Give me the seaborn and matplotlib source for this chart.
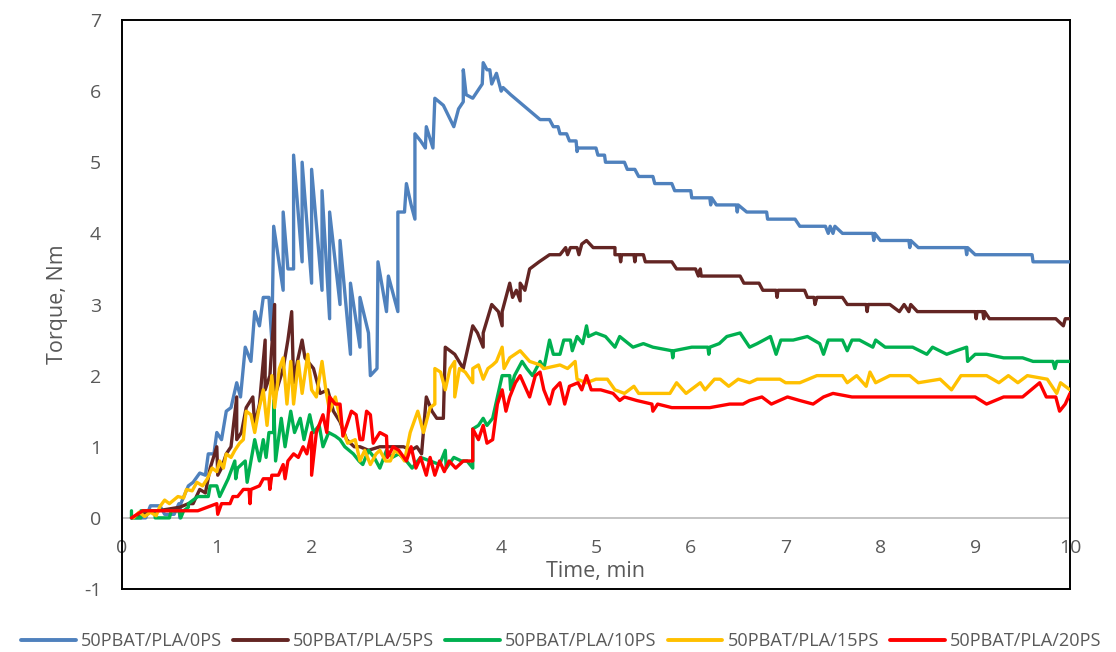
import matplotlib
matplotlib.use("Agg")
import matplotlib.pyplot as plt
import seaborn as sns
import pandas as pd

series_names = ["50PBAT/PLA/0PS", "50PBAT/PLA/5PS", "50PBAT/PLA/10PS",
                "50PBAT/PLA/15PS", "50PBAT/PLA/20PS"]
series_colors = ["#4F81BD", "#632523", "#00B050", "#FFC000", "#FF0000"]

x_ticks = list(range(0, 11))
y_ticks = list(range(-1, 8))

# (time [min], torque [Nm])
ps0 = [(0.10,0.0),(0.25,0.0),(0.30,0.17),(0.40,0.17),(0.45,0.05),(0.55,0.05),(0.60,0.2),(0.61,0.0),
       (0.62,0.2),(0.70,0.45),(0.75,0.5),(0.82,0.63),(0.88,0.6),(0.91,0.9),(0.97,0.9),(1.00,1.2),
       (1.05,1.1),(1.10,1.5),(1.15,1.55),(1.21,1.9),(1.25,1.7),(1.30,2.4),(1.36,2.2),(1.40,2.9),
       (1.45,2.7),(1.49,3.1),(1.55,3.1),(1.58,2.5),(1.60,4.1),(1.70,3.2),(1.70,4.3),(1.75,3.5),
       (1.81,3.5),(1.81,5.1),(1.90,3.6),(1.90,5.0),(2.00,3.3),(2.00,4.9),(2.11,3.2),(2.11,4.6),
       (2.19,2.8),(2.19,4.3),(2.30,3.0),(2.30,3.9),(2.41,2.3),(2.41,3.3),(2.51,2.4),(2.51,3.1),
       (2.60,2.6),(2.62,2.0),(2.69,2.1),(2.70,3.6),(2.79,2.9),(2.81,3.4),(2.91,2.9),(2.91,4.3),
       (2.98,4.3),(3.00,4.7),(3.05,4.4),(3.09,4.2),(3.09,5.4),(3.15,5.3),(3.20,5.2),(3.21,5.5),
       (3.28,5.2),(3.30,5.9),(3.39,5.8),(3.50,5.5),(3.55,5.75),(3.60,5.85),(3.60,6.3),(3.63,5.95),
       (3.70,5.9),(3.80,6.1),(3.81,6.4),(3.85,6.3),(3.88,6.3),(3.90,6.1),(3.95,6.25),(4.00,6.0),
       (4.02,6.05),(4.10,5.95),(4.41,5.6),(4.51,5.6),(4.55,5.5),(4.60,5.5),(4.62,5.4),(4.69,5.4),
       (4.72,5.3),(4.79,5.3),(4.80,5.15),(4.81,5.2),(5.00,5.2),(5.02,5.1),(5.09,5.1),(5.10,5.0),
       (5.30,5.0),(5.33,4.9),(5.41,4.9),(5.45,4.8),(5.60,4.8),(5.62,4.7),(5.80,4.7),(5.83,4.6),
       (6.00,4.6),(6.01,4.5),(6.20,4.5),(6.21,4.4),(6.22,4.5),(6.27,4.4),(6.48,4.4),(6.49,4.3),
       (6.50,4.4),(6.59,4.3),(6.80,4.3),(6.81,4.2),(7.10,4.2),(7.15,4.1),(7.42,4.1),(7.45,4.0),
       (7.47,4.1),(7.50,4.0),(7.52,4.1),(7.60,4.0),(7.92,4.0),(7.93,3.9),(7.94,4.0),(8.00,3.9),
       (8.30,3.9),(8.31,3.8),(8.32,3.9),(8.40,3.8),(8.90,3.8),(8.91,3.7),(8.92,3.8),(9.00,3.7),
       (9.60,3.7),(9.61,3.6),(10.0,3.6)]

ps5 = [(0.10,0.0),(0.20,0.05),(0.38,0.1),(0.61,0.15),(0.70,0.2),(0.75,0.2),(0.82,0.4),(0.88,0.35),
       (0.93,0.7),(1.00,1.0),(1.01,0.6),(1.05,0.7),(1.10,0.9),(1.15,1.0),(1.21,1.7),(1.21,1.1),
       (1.26,1.2),(1.31,1.55),(1.38,1.7),(1.40,1.3),(1.45,1.6),(1.51,2.5),(1.51,1.8),(1.56,2.0),
       (1.60,2.8),(1.61,3.0),(1.61,1.7),(1.70,2.1),(1.75,2.5),(1.79,2.9),(1.81,1.9),(1.85,2.2),
       (1.90,2.5),(1.93,2.25),(2.02,2.1),(2.09,1.75),(2.17,1.8),(2.23,1.5),(2.30,1.35),(2.37,1.1),
       (2.45,1.0),(2.51,1.0),(2.60,0.95),(2.72,1.0),(2.86,1.0),(2.97,1.0),(3.05,0.95),(3.11,1.0),
       (3.16,0.9),(3.21,1.7),(3.27,1.5),(3.32,1.4),(3.39,1.4),(3.41,2.4),(3.51,2.3),(3.60,2.1),
       (3.70,2.7),(3.75,2.6),(3.81,2.4),(3.81,2.6),(3.90,3.0),(3.97,2.9),(4.01,2.7),(4.01,2.9),
       (4.09,3.3),(4.12,3.1),(4.16,3.2),(4.20,3.05),(4.20,3.3),(4.25,3.2),(4.30,3.5),(4.40,3.6),
       (4.51,3.7),(4.62,3.7),(4.68,3.8),(4.70,3.7),(4.73,3.8),(4.80,3.8),(4.82,3.7),(4.85,3.85),
       (4.90,3.9),(4.97,3.8),(5.20,3.8),(5.20,3.7),(5.25,3.7),(5.26,3.6),(5.27,3.7),(5.40,3.7),
       (5.41,3.6),(5.42,3.7),(5.50,3.7),(5.52,3.6),(5.80,3.6),(5.85,3.5),(6.05,3.5),(6.08,3.4),
       (6.10,3.5),(6.11,3.4),(6.52,3.4),(6.56,3.3),(6.72,3.3),(6.76,3.2),(6.90,3.2),(6.91,3.1),
       (6.92,3.2),(7.20,3.2),(7.23,3.1),(7.30,3.1),(7.31,3.0),(7.33,3.1),(7.60,3.1),(7.65,3.0),
       (7.85,3.0),(7.86,2.9),(7.87,3.0),(8.10,3.0),(8.20,2.9),(8.25,3.0),(8.30,2.9),(8.32,3.0),
       (8.39,2.9),(9.00,2.9),(9.01,2.8),(9.02,2.9),(9.08,2.9),(9.09,2.8),(9.10,2.9),(9.15,2.8),
       (9.85,2.8),(9.93,2.7),(9.95,2.8),(10.0,2.8)]

ps10 = [(0.10,0.1),(0.10,0.0),(0.20,0.0),(0.20,0.1),(0.35,0.1),(0.35,0.0),(0.50,0.0),(0.52,0.1),
        (0.60,0.1),(0.62,0.0),(0.65,0.1),(0.70,0.15),(0.70,0.2),(0.80,0.3),(0.91,0.3),(0.93,0.45),
        (1.00,0.45),(1.03,0.3),(1.12,0.55),(1.19,0.8),(1.20,0.55),(1.22,0.7),(1.30,0.8),(1.32,0.5),
        (1.40,1.1),(1.45,0.8),(1.49,1.1),(1.52,0.85),(1.55,1.2),(1.60,1.2),(1.60,1.65),(1.62,0.8),
        (1.68,1.4),(1.72,1.0),(1.78,1.5),(1.82,1.2),(1.88,1.4),(1.92,1.1),(1.98,1.45),(2.02,1.2),
        (2.08,1.3),(2.12,1.0),(2.18,1.2),(2.25,1.15),(2.30,1.1),(2.35,1.0),(2.44,0.9),(2.50,0.8),
        (2.54,0.75),(2.60,0.95),(2.66,0.85),(2.72,0.7),(2.79,0.95),(2.85,0.85),(2.92,0.9),(3.00,0.8),
        (3.06,0.7),(3.15,0.85),(3.25,0.8),(3.35,0.75),(3.41,0.95),(3.42,0.7),(3.50,0.85),(3.58,0.8),
        (3.64,0.8),(3.70,0.7),(3.70,1.25),(3.76,1.3),(3.81,1.4),(3.85,1.3),(3.91,1.4),(3.96,1.7),
        (4.01,2.0),(4.09,2.0),(4.10,1.8),(4.14,2.0),(4.22,2.2),(4.27,2.1),(4.33,2.0),(4.41,2.2),
        (4.45,2.1),(4.51,2.5),(4.55,2.3),(4.62,2.3),(4.66,2.5),(4.73,2.5),(4.75,2.35),(4.80,2.55),
        (4.86,2.45),(4.90,2.7),(4.92,2.55),(5.00,2.6),(5.10,2.55),(5.20,2.4),(5.25,2.55),(5.39,2.4),
        (5.50,2.45),(5.60,2.4),(5.80,2.35),(5.81,2.25),(5.82,2.35),(6.01,2.4),(6.18,2.4),(6.19,2.3),
        (6.20,2.4),(6.30,2.45),(6.38,2.55),(6.52,2.6),(6.62,2.4),(6.70,2.45),(6.84,2.55),(6.90,2.3),
        (6.95,2.5),(7.08,2.5),(7.23,2.55),(7.36,2.45),(7.40,2.3),(7.45,2.5),(7.60,2.5),(7.65,2.35),
        (7.70,2.5),(7.78,2.5),(7.92,2.4),(7.95,2.5),(8.05,2.4),(8.34,2.4),(8.49,2.3),(8.55,2.4),
        (8.70,2.3),(8.80,2.35),(8.91,2.4),(8.92,2.2),(9.00,2.3),(9.12,2.3),(9.30,2.25),(9.50,2.25),
        (9.61,2.2),(9.82,2.2),(9.84,2.1),(9.86,2.2),(10.0,2.2)]

ps15 = [(0.12,0.0),(0.18,0.08),(0.24,0.02),(0.30,0.08),(0.36,0.03),(0.40,0.16),(0.45,0.25),(0.50,0.2),
        (0.59,0.3),(0.65,0.28),(0.68,0.4),(0.74,0.38),(0.79,0.5),(0.85,0.45),(0.90,0.55),(0.95,0.7),
        (1.00,0.65),(1.03,0.8),(1.07,0.7),(1.10,0.9),(1.15,0.85),(1.19,0.95),(1.24,1.05),(1.28,1.1),
        (1.31,1.5),(1.36,1.45),(1.40,1.2),(1.44,1.5),(1.49,1.8),(1.53,1.3),(1.58,2.0),(1.61,1.55),
        (1.66,2.1),(1.70,2.25),(1.74,1.6),(1.78,2.2),(1.81,1.6),(1.86,2.2),(1.90,1.75),(1.96,2.3),
        (2.00,1.8),(2.05,1.7),(2.11,2.2),(2.15,1.8),(2.19,1.5),(2.25,1.7),(2.30,1.4),(2.34,1.2),
        (2.38,1.05),(2.46,1.1),(2.51,0.8),(2.56,0.95),(2.62,0.75),(2.68,0.9),(2.72,0.95),(2.78,0.8),
        (2.83,0.8),(2.88,0.95),(2.93,0.9),(2.98,0.8),(3.04,1.2),(3.12,1.5),(3.18,1.2),(3.25,1.55),
        (3.30,1.6),(3.30,2.1),(3.36,2.05),(3.41,1.8),(3.46,2.1),(3.51,2.2),(3.51,1.7),(3.56,2.1),
        (3.62,2.05),(3.70,1.9),(3.70,2.1),(3.76,2.15),(3.81,1.95),(3.86,2.1),(3.91,2.15),(3.95,2.2),
        (4.01,2.4),(4.03,2.1),(4.09,2.25),(4.20,2.35),(4.30,2.2),(4.41,2.15),(4.45,2.1),(4.62,2.15),
        (4.70,2.1),(4.78,2.2),(4.80,1.95),(4.90,1.9),(5.00,1.95),(5.12,1.95),(5.20,1.8),(5.30,1.75),
        (5.40,1.85),(5.45,1.75),(5.78,1.75),(5.85,1.9),(5.95,1.75),(6.10,1.9),(6.15,1.8),(6.25,1.95),
        (6.31,1.95),(6.40,1.85),(6.50,1.95),(6.62,1.9),(6.70,1.95),(6.94,1.95),(7.00,1.9),(7.15,1.9),
        (7.33,2.0),(7.60,2.0),(7.65,1.9),(7.75,2.0),(7.85,1.85),(7.89,2.05),(7.95,1.9),(8.10,2.0),
        (8.31,2.0),(8.40,1.9),(8.63,1.95),(8.75,1.8),(8.85,2.0),(9.12,2.0),(9.25,1.9),(9.35,2.0),
        (9.45,1.9),(9.55,2.0),(9.76,1.95),(9.86,1.75),(9.90,1.9),(10.0,1.8)]

ps20 = [(0.10,0.0),(0.22,0.1),(0.50,0.1),(0.80,0.1),(1.00,0.2),(1.01,0.05),(1.05,0.2),(1.14,0.2),
        (1.17,0.3),(1.22,0.3),(1.28,0.4),(1.34,0.4),(1.35,0.2),(1.36,0.4),(1.45,0.45),(1.49,0.55),
        (1.55,0.55),(1.56,0.4),(1.58,0.6),(1.65,0.6),(1.70,0.75),(1.72,0.55),(1.75,0.8),(1.81,0.9),
        (1.86,0.85),(1.91,1.0),(1.95,0.9),(2.00,1.2),(2.00,0.6),(2.05,1.2),(2.12,1.45),(2.16,1.2),
        (2.19,1.7),(2.25,1.6),(2.30,1.6),(2.33,1.15),(2.37,1.3),(2.42,1.5),(2.47,1.45),(2.51,1.1),
        (2.54,1.1),(2.58,1.5),(2.62,1.45),(2.65,1.05),(2.72,1.2),(2.79,1.15),(2.80,0.85),(2.86,1.0),
        (2.92,0.95),(3.00,0.8),(3.05,1.0),(3.10,0.7),(3.15,0.85),(3.21,0.6),(3.25,0.85),(3.30,0.6),
        (3.35,0.8),(3.40,0.65),(3.45,0.8),(3.52,0.7),(3.60,0.8),(3.70,0.8),(3.70,1.25),(3.76,1.1),
        (3.81,1.3),(3.85,1.05),(3.91,1.1),(3.96,1.6),(4.01,1.8),(4.05,1.5),(4.09,1.7),(4.15,1.9),
        (4.20,2.0),(4.25,1.85),(4.30,1.7),(4.36,2.0),(4.41,2.05),(4.45,1.8),(4.51,1.6),(4.55,1.8),
        (4.62,1.9),(4.67,1.6),(4.72,1.85),(4.81,1.9),(4.85,1.8),(4.90,2.0),(4.95,1.8),(5.05,1.8),
        (5.18,1.75),(5.25,1.65),(5.30,1.7),(5.43,1.65),(5.59,1.6),(5.60,1.5),(5.65,1.6),(5.80,1.55),
        (6.03,1.55),(6.20,1.55),(6.41,1.6),(6.55,1.6),(6.62,1.65),(6.75,1.7),(6.85,1.6),(7.02,1.7),
        (7.15,1.65),(7.29,1.6),(7.40,1.7),(7.50,1.75),(7.70,1.7),(7.95,1.7),(8.20,1.7),(8.50,1.7),
        (8.77,1.7),(9.00,1.7),(9.12,1.6),(9.30,1.7),(9.50,1.7),(9.68,1.9),(9.75,1.7),(9.85,1.7),
        (9.89,1.5),(9.95,1.6),(10.0,1.75)]

all_series = [ps0, ps5, ps10, ps15, ps20]

frames = []
for name, pts in zip(series_names, all_series):
    t, v = zip(*pts)
    frames.append(pd.DataFrame({"Time": t, "Torque": v, "Sample": name}))
df = pd.concat(frames, ignore_index=True)

sns.set_theme(style="white")
plt.rcParams["font.family"] = ["Open Sans", "DejaVu Sans"]

fig = plt.figure(figsize=(11.16, 6.52), dpi=100)
ax = fig.add_axes([122/1116, 1 - 589/652, (1070-122)/1116, (589-20)/652])

ax.axhline(0, color="#BFBFBF", lw=1.3, zorder=1)

sns.lineplot(data=df, x="Time", y="Torque", hue="Sample", hue_order=series_names,
             palette=dict(zip(series_names, series_colors)), estimator=None,
             sort=False, units="Sample", lw=2.4, ax=ax, legend=True, zorder=3)

ax.set_xlim(0, 10)
ax.set_ylim(-1, 7)
ax.set_xticks(x_ticks)
ax.set_yticks(y_ticks)
ax.set_xticklabels([str(x) for x in x_ticks])
ax.set_yticklabels([str(y) for y in y_ticks])
ax.tick_params(axis="x", length=0, pad=-36, labelsize=14, labelcolor="#595959")
ax.tick_params(axis="y", length=0, pad=15, labelsize=14, labelcolor="#595959")

for s in ax.spines.values():
    s.set_visible(True)
    s.set_color("black")
    s.set_linewidth(1.4)

ax.set_xlabel("Time, min", fontsize=15.5, color="#595959")
ax.set_ylabel("Torque, Nm", fontsize=15.5, color="#595959")
ax.xaxis.label.set_verticalalignment("baseline")
ax.xaxis.set_label_coords(0.5, (589 - 577) / 569)
ax.yaxis.set_label_coords(-0.057, 0.5)

handles, labels = ax.get_legend_handles_labels()
ax.legend_.remove()
for h in handles:
    h.set_linewidth(2.8)
leg = fig.legend(handles, labels, loc="center", bbox_to_anchor=(0.503, 0.017), ncol=5,
                 frameon=False, fontsize=13.1, handlelength=3.0, handletextpad=0.3,
                 columnspacing=0.6, borderaxespad=0, borderpad=0)
for t in leg.get_texts():
    t.set_color("#595959")

fig.savefig("out.png", dpi=100)
